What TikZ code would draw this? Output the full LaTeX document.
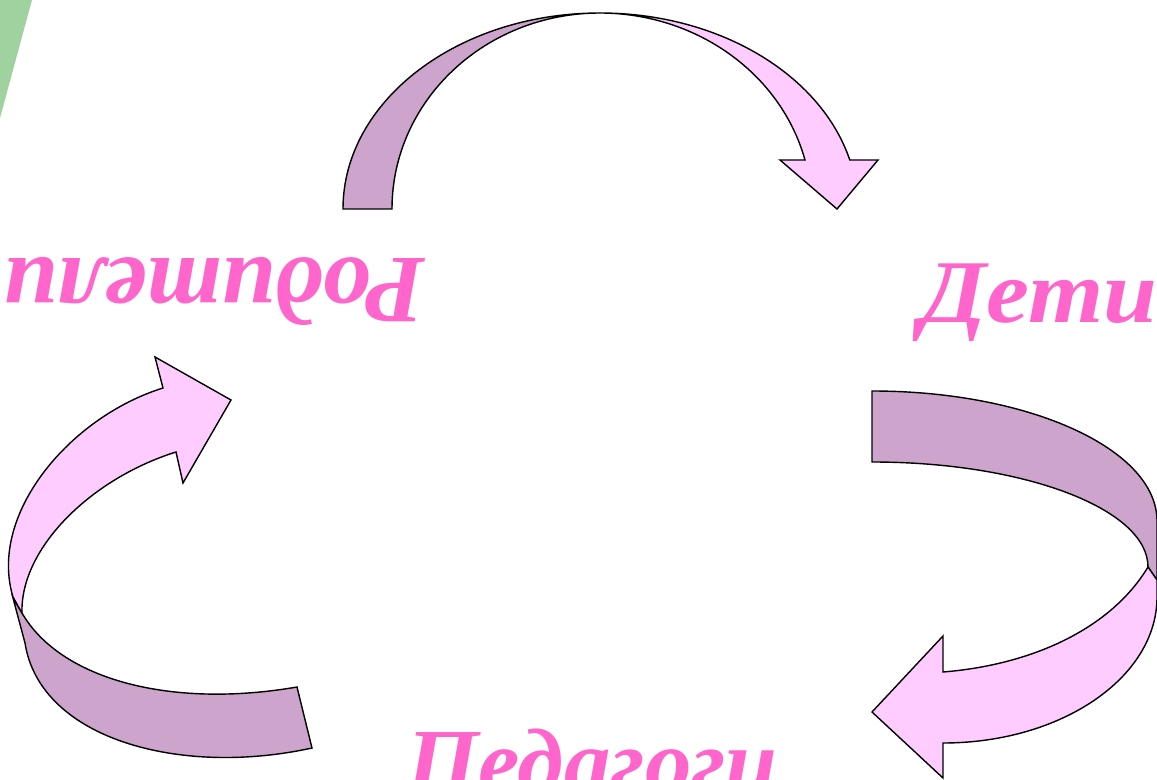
\documentclass[tikz,border=0pt]{standalone}
\usepackage{fontspec}
\setmainfont{Liberation Serif}
\usepackage{tikz}
\usetikzlibrary{positioning}
\definecolor{RibbonBack}{RGB}{204,164,204}
\definecolor{RibbonFront}{RGB}{255,204,255}
\definecolor{WordPink}{RGB}{255,102,204}
\definecolor{SlideGreen}{RGB}{160,210,160}

\begin{document}
\begin{tikzpicture}[x=0.02cm,y=0.02cm,
    back/.style={draw=black,fill=RibbonBack,line width=0.8pt},
    front/.style={draw=black,fill=RibbonFront,line width=0.8pt},
    word/.style={text=WordPink,inner sep=0pt,font=\bfseries\itshape\fontsize{#1}{#1}\selectfont}]
    \useasboundingbox (0,0) rectangle (1157,779);
    \fill[SlideGreen] (0,779) -- (32,779) -- (0,661) -- cycle;
    % top ribbon
    \draw[back] (343,570) arc[start angle=180,end angle=90,x radius=257,y radius=196]
        arc[start angle=90,end angle=180,x radius=208,y radius=196] -- cycle;
    \draw[front] (600,766) arc[start angle=90,end angle=14.48,x radius=258,y radius=196]
        -- (878,619) -- (837,570) -- (780,619) -- (805,619)
        arc[start angle=14.48,end angle=90,x radius=212,y radius=196] -- cycle;
    % right ribbon
    \draw[back] (872,388) arc[start angle=90,end angle=0,x radius=285,y radius=130]
        -- (1157,199) -- (1148,212) arc[start angle=0,end angle=90,x radius=276,y radius=105] -- cycle;
    \draw[front] (1157,199) -- (1157,182) arc[start angle=0,end angle=-90,x radius=214,y radius=146]
        -- (943,1) -- (872,67) -- (943,143) -- (943,107)
        .. controls (1030,114) and (1110,149) .. (1148,212) -- cycle;
    % left ribbon
    \draw[back] (22,166) .. controls (60,100) and (170,70) .. (297,92) -- (312,31)
        .. controls (180,2) and (40,40) .. (25,136) -- (13,181) -- cycle;
    \draw[front] (13,182) .. controls (-12,265) and (70,362) .. (163,391) -- (155,422)
        -- (231,379) -- (183,296) -- (176,327) .. controls (90,300) and (20,230) .. (22,166) -- cycle;
    % words
    \node[word=55,rotate=180,anchor=base west] (rod) at (426,521) {Родители};
    \node[word=51,xscale=1.08,anchor=base west] (deti) at (920,457) {Дети};
    \node[word=53,anchor=base west] (ped) at (406,-14) {Педагоги};
\end{tikzpicture}
\end{document}
